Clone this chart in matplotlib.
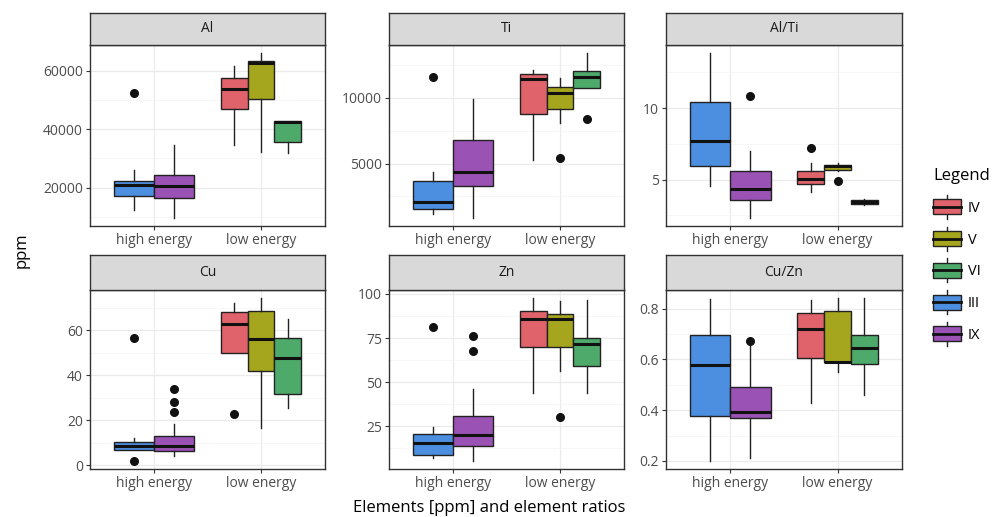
import matplotlib
matplotlib.use("Agg")
import matplotlib.pyplot as plt
from matplotlib.patches import Patch, Rectangle
from matplotlib.lines import Line2D
from matplotlib.legend_handler import HandlerBase
from matplotlib.ticker import MultipleLocator, AutoMinorLocator

plt.rcParams['font.family'] = ['Open Sans', 'DejaVu Sans']

# groups and where they sit
groups = ["III", "IX", "IV", "V", "VI"]
energy = ["high energy", "high energy", "low energy", "low energy", "low energy"]
categories = ["high energy", "low energy"]
legend_order = ["IV", "V", "VI", "III", "IX"]
colors = {"IV": "#E0636B", "V": "#A6A51E", "VI": "#4DAA6A", "III": "#4C8EE0", "IX": "#9A52B4"}

# box stats per group: [whislo, q1, med, q3, whishi]
al = [[12240, 17030, 20800, 22150, 25900],
      [9640, 16470, 20680, 24440, 34460],
      [34460, 46900, 53740, 57500, 61800],
      [32200, 50320, 62630, 63400, 66050],
      [31860, 35490, 42330, 42900, 42900]]
al_out = [[52580], [], [], [], []]

ti = [[1190, 1570, 2073, 3674, 4360],
      [880, 3270, 4360, 6776, 9900],
      [5305, 8758, 11400, 11806, 12110],
      [8050, 9140, 10335, 10790, 11480],
      [10717, 10717, 11600, 12060, 13384]]
ti_out = [[11600], [], [], [5457], [8376]]

alti = [[4.53, 5.93, 7.67, 10.46, 13.84],
        [2.33, 3.6, 4.35, 5.58, 6.97],
        [4.11, 4.70, 5.07, 5.58, 6.16],
        [5.6, 5.65, 5.93, 6.05, 6.16],
        [3.2, 3.26, 3.45, 3.6, 3.65]]
alti_out = [[], [10.86], [7.21], [4.88], []]

cu = [[7.0, 7.0, 8.8, 10.5, 12.1],
      [4.4, 6.3, 8.5, 12.9, 18.3],
      [50.0, 50.0, 62.6, 68.0, 72.0],
      [16.8, 41.7, 56.3, 68.5, 74.2],
      [25.6, 31.9, 47.6, 56.6, 64.8]]
cu_out = [[56.6, 2.05], [33.7, 28.2, 23.7], [23.0], [], []]

zn = [[7.1, 9.0, 15.5, 20.7, 24.4],
      [5.4, 13.8, 20.1, 30.6, 46.3],
      [43.7, 69.8, 86.0, 90.3, 97.6],
      [56.2, 70.1, 86.0, 88.8, 95.7],
      [43.7, 59.3, 71.5, 74.8, 96.3]]
zn_out = [[81.0], [76.3, 67.9], [], [30.0], []]

cuzn = [[0.20, 0.377, 0.577, 0.698, 0.839],
        [0.213, 0.369, 0.393, 0.491, 0.656],
        [0.430, 0.606, 0.719, 0.783, 0.835],
        [0.550, 0.590, 0.592, 0.793, 0.842],
        [0.461, 0.581, 0.645, 0.695, 0.842]]
cuzn_out = [[], [0.673], [], [], []]

panels = [("Al", al, al_out, 20000), ("Ti", ti, ti_out, 5000), ("Al/Ti", alti, alti_out, 5),
          ("Cu", cu, cu_out, 20), ("Zn", zn, zn_out, 25), ("Cu/Zn", cuzn, cuzn_out, 0.2)]

W, H = 995, 517
fig = plt.figure(figsize=(W / 100, H / 100), dpi=100)

cols = [(90, 325), (389, 624), (666, 902)]
rows = [(13, 45, 226), (255, 290, 469)]  # strip top, panel top, panel bottom


def box_positions():
    pos, wid = [], []
    for i, e in enumerate(energy):
        members = [j for j, ee in enumerate(energy) if ee == e]
        n = len(members)
        w = 0.75 / n
        k = members.index(i)
        pos.append(categories.index(e) + 1 + (k - (n - 1) / 2) * w)
        wid.append(w)
    return pos, wid


positions, widths = box_positions()

for idx, (name, vals, outs, step) in enumerate(panels):
    x0, x1 = cols[idx % 3]
    st, pt, pb = rows[idx // 3]
    ax = fig.add_axes([x0 / W, 1 - pb / H, (x1 - x0) / W, (pb - pt) / H])
    sax = fig.add_axes([x0 / W, 1 - pt / H, (x1 - x0) / W, (pt - st) / H])

    stats = []
    for v, o in zip(vals, outs):
        stats.append(dict(whislo=v[0], q1=v[1], med=v[2], q3=v[3], whishi=v[4], fliers=o))
    bp = ax.bxp(stats, positions=positions, widths=widths, patch_artist=True,
                showcaps=False, manage_ticks=False,
                boxprops=dict(edgecolor="#222222", linewidth=1.0),
                medianprops=dict(color="#111111", linewidth=2.2),
                whiskerprops=dict(color="#222222", linewidth=1.0),
                flierprops=dict(marker="o", markerfacecolor="#111111",
                                markeredgecolor="#111111", markersize=5.5))
    for patch, g in zip(bp["boxes"], groups):
        patch.set_facecolor(colors[g])

    ax.set_xlim(0.4, 2.6)
    ax.margins(y=0.05)
    ax.autoscale(axis="y")
    ax.set_xticks([1, 2])
    ax.set_xticklabels(categories)
    ax.yaxis.set_major_locator(MultipleLocator(step))
    ax.yaxis.set_minor_locator(AutoMinorLocator(2))
    ax.grid(True, which="major", color="#EBEBEB", linewidth=0.9)
    ax.grid(True, which="minor", axis="y", color="#F4F4F4", linewidth=0.5)
    ax.set_axisbelow(True)
    ax.tick_params(which="major", length=3, width=0.8, color="#333333",
                   labelsize=10, labelcolor="#4D4D4D", pad=2)
    ax.tick_params(which="minor", length=0)
    for s in ax.spines.values():
        s.set_color("#333333")
        s.set_linewidth(1.0)

    sax.set_facecolor("#D9D9D9")
    sax.set_xticks([])
    sax.set_yticks([])
    for s in sax.spines.values():
        s.set_color("#333333")
        s.set_linewidth(1.0)
    sax.text(0.5, 0.5, name, ha="center", va="center", fontsize=10, color="#1A1A1A",
             transform=sax.transAxes)

fig.text(22 / W, 1 - 250 / H, "ppm", rotation=90, ha="center", va="center", fontsize=12)
fig.text(489 / W, 1 - 508 / H, "Elements [ppm] and element ratios", ha="center", va="center",
         fontsize=12)


class BoxHandler(HandlerBase):
    def create_artists(self, legend, orig_handle, xdescent, ydescent, width, height, fontsize, trans):
        x0, y0 = -xdescent, -ydescent
        cx = x0 + width / 2
        arts = [
            Line2D([cx, cx], [y0 - 0.3 * height, y0 + 1.3 * height], color="#222222", lw=1.0),
            Rectangle((x0, y0), width, height, facecolor=orig_handle.get_facecolor(),
                      edgecolor="#222222", lw=1.0),
            Line2D([x0, x0 + width], [y0 + height / 2, y0 + height / 2], color="#111111", lw=2.0),
        ]
        for a in arts:
            a.set_transform(trans)
        return arts


handles = [Patch(facecolor=colors[g], edgecolor="#222222") for g in legend_order]
fig.legend(handles, legend_order, loc="upper left", bbox_to_anchor=(920 / W, 1 - 155 / H),
           frameon=False, title="Legend", title_fontsize=12, fontsize=10.5,
           handler_map={Patch: BoxHandler()}, handlelength=1.9, handleheight=1.2,
           labelspacing=1.05, handletextpad=0.5, alignment="left")

fig.savefig("out.png", dpi=100)
